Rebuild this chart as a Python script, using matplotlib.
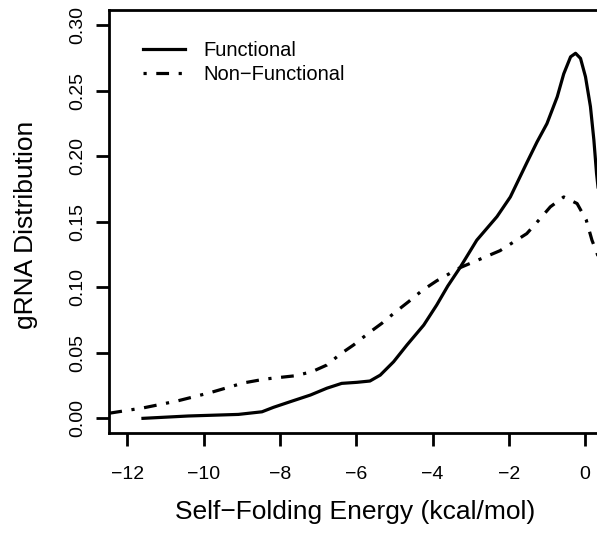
import matplotlib
matplotlib.use("Agg")
import matplotlib.pyplot as plt

plt.rcParams['font.family'] = ['Liberation Sans', 'DejaVu Sans']

# Functional gRNA density
func_x = [-11.59, -10.4, -9.09, -8.47, -8.17, -7.73, -7.2, -6.77, -6.38, -5.98,
          -5.64, -5.37, -5.02, -4.67, -4.23, -3.89, -3.6, -3.28, -2.84, -2.31,
          -1.96, -1.53, -1.26, -1.0, -0.73, -0.56, -0.38, -0.25, -0.12, 0.01,
          0.14, 0.23, 0.30, 0.40]
func_y = [0.000, 0.0018, 0.003, 0.005, 0.0084, 0.0127, 0.0178, 0.023, 0.0267, 0.0275,
          0.0285, 0.033, 0.0432, 0.056, 0.0712, 0.0865, 0.101, 0.115, 0.136, 0.154,
          0.169, 0.195, 0.211, 0.225, 0.2455, 0.263, 0.276, 0.2787, 0.2748, 0.2608,
          0.238, 0.2125, 0.187, 0.16]

# Non-functional gRNA density
nonf_x = [-12.8, -12.5, -11.58, -10.7, -9.83, -8.96, -8.39, -8.08, -7.6, -7.16,
          -6.77, -6.42, -6.07, -5.68, -5.33, -4.98, -4.63, -4.28, -3.89, -3.28,
          -2.23, -1.53, -1.21, -0.91, -0.56, -0.21, 0.03, 0.18, 0.30, 0.45]
nonf_y = [0.002, 0.0038, 0.008, 0.0132, 0.0196, 0.027, 0.030, 0.031, 0.0325, 0.0356,
          0.0407, 0.049, 0.056, 0.065, 0.0725, 0.081, 0.089, 0.0974, 0.105, 0.115,
          0.128, 0.141, 0.1514, 0.1615, 0.169, 0.164, 0.1514, 0.136, 0.127, 0.115]

xticks = [-12, -10, -8, -6, -4, -2, 0]
yticks = [0.00, 0.05, 0.10, 0.15, 0.20, 0.25, 0.30]

fig = plt.figure(figsize=(5.97, 5.41), dpi=100)
ax = fig.add_axes([0.1826, 0.1996, 0.8358, 0.7828])

lw = 2.3
ax.plot(func_x, func_y, color='black', lw=lw, label='Functional')
ax.plot(nonf_x, nonf_y, color='black', lw=lw, dashes=(1, 3, 4, 3), label='Non\u2212Functional')

ax.set_xlim(-12.48, 0.6)
ax.set_ylim(-0.0112, 0.3121)
ax.set_xticks(xticks)
ax.set_yticks(yticks)
ax.set_xticklabels([str(t).replace('-', '\u2212') for t in xticks])
ax.set_yticklabels(['%.2f' % t for t in yticks], rotation=90, va='center')

for s in ax.spines.values():
    s.set_linewidth(2)
ax.tick_params(axis='both', length=9.4, width=2, labelsize=14)
ax.tick_params(axis='x', pad=14)
ax.tick_params(axis='y', pad=7)

ax.set_xlabel('Self\u2212Folding Energy (kcal/mol)', fontsize=19)
ax.xaxis.set_label_coords(0.493, -0.158)
ax.set_ylabel('gRNA Distribution', fontsize=19)
ax.yaxis.set_label_coords(-0.142, 0.491)

ax.legend(loc='upper left', bbox_to_anchor=(0.052, 0.945), frameon=False,
          fontsize=14.5, handlelength=2.1, handletextpad=0.9, labelspacing=0.25,
          borderaxespad=0)

fig.savefig('out.png', dpi=100)
